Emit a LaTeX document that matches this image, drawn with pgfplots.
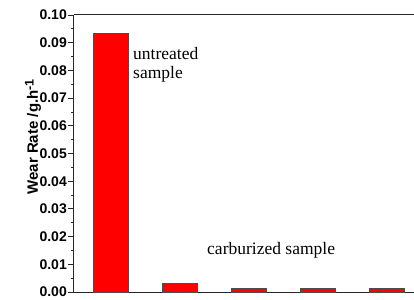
\documentclass[border=0pt]{standalone}
\usepackage{fontspec}
\setmainfont{Liberation Serif}
\newfontfamily\arialf{Liberation Sans}
\usepackage{pgfplots}
\pgfplotsset{compat=1.18}
\begin{document}
\begin{tikzpicture}
\begin{axis}[
  name=ax,
  scale only axis,
  width=340bp, height=277bp,
  xmin=0.47, xmax=5.39,
  ymin=0, ymax=0.10,
  axis x line*=box,
  axis y line*=left,
  axis line style={line width=1bp, color=black!85},
  xtick=\empty,
  ytick={0,0.01,...,0.1},
  minor y tick num=1,
  tick align=outside,
  major tick length=6bp,
  minor tick length=3bp,
  tick style={line width=0.8bp, color=black!85},
  /pgf/number format/assume math mode=true,
  yticklabel style={font=\arialf\bfseries\fontsize{14bp}{16bp}\selectfont, inner sep=1bp,
    /pgf/number format/.cd, fixed, fixed zerofill, precision=2},
  ylabel={Wear Rate /g.h\raisebox{0.55ex}{\fontsize{12.5bp}{13bp}\selectfont -1}},
  ylabel style={font=\arialf\bfseries\fontsize{15bp}{17bp}\selectfont,
    at={(axis description cs:-0.1206,0.56)}, anchor=center},
  clip=false,
]
\addplot[ybar, bar width=35bp, fill=red, draw=black!70, line width=0.6bp]
  coordinates {(1,0.0935) (2,0.0030) (3,0.0012) (4,0.0012) (5,0.0012)};
\node[anchor=north west, align=left, inner sep=0pt,
  font=\fontsize{17.5bp}{19bp}\selectfont] at (axis cs:1.324,0.0885) {untreated\\sample};
\node[anchor=base west, inner sep=0pt,
  font=\fontsize{17.5bp}{19bp}\selectfont] at (axis cs:2.395,0.0134) {carburized sample};
\end{axis}
\pgfresetboundingbox
\path ([xshift=-74bp,yshift=-8bp]ax.south west) rectangle ([yshift=15bp]ax.north east);
\end{tikzpicture}
\end{document}
